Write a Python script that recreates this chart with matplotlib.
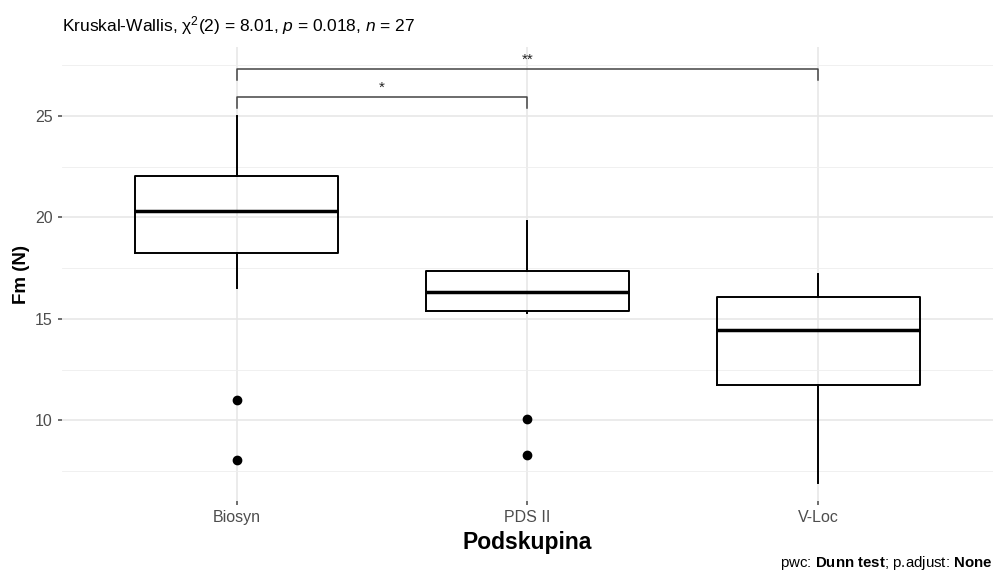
import matplotlib
matplotlib.use("Agg")
import matplotlib.pyplot as plt

plt.rcParams['font.family'] = ['Liberation Sans', 'DejaVu Sans']
plt.rcParams['mathtext.fontset'] = 'custom'
plt.rcParams['mathtext.rm'] = 'Liberation Sans'
plt.rcParams['mathtext.it'] = 'Liberation Sans:italic'
plt.rcParams['mathtext.bf'] = 'Liberation Sans:bold'

# data
groups = ["Biosyn", "PDS II", "V-Loc"]
q1 = [18.25, 15.39, 11.75]
med = [20.32, 16.33, 14.44]
q3 = [22.04, 17.36, 16.07]
whis_lo = [16.53, 15.3, 6.92]
whis_hi = [25.0, 19.83, 17.22]
outliers = [[11.0, 8.05], [10.07, 8.3], []]

# pairwise comparisons (group index a, group index b, label, bracket y)
pairs = [(0, 1, "*", 25.94), (0, 2, "**", 27.32)]

stats = []
for i, g in enumerate(groups):
    stats.append({"label": g, "q1": q1[i], "med": med[i], "q3": q3[i],
                  "whislo": whis_lo[i], "whishi": whis_hi[i],
                  "fliers": outliers[i]})

fig = plt.figure(figsize=(9.93, 5.72), dpi=100)
ax = fig.add_axes([0.0624, 0.1241, 0.9376, 0.7937])

pos = [1, 2, 3]
ax.bxp(stats, positions=pos, widths=0.7, showcaps=False, patch_artist=False,
       boxprops=dict(color="black", linewidth=1.4),
       whiskerprops=dict(color="black", linewidth=1.4),
       medianprops=dict(color="black", linewidth=2.5),
       flierprops=dict(marker="o", markerfacecolor="black",
                       markeredgecolor="black", markersize=6),
       zorder=3)

# significance brackets
tip = 0.55
for a, b, lab, yb in pairs:
    xa, xb = pos[a], pos[b]
    ax.plot([xa, xa, xb, xb], [yb - tip, yb, yb, yb - tip],
            color="#444444", linewidth=1.1, zorder=3)
    ax.text((xa + xb) / 2, yb + 0.1, lab, ha="center", va="bottom",
            fontsize=11, color="#222222")

ax.set_xlim(0.4, 3.6)
ax.set_ylim(6.03, 28.40)
ax.set_xticks(pos)
ax.set_xticklabels(groups)
ax.set_yticks([10, 15, 20, 25])
ax.set_yticks([7.5, 12.5, 17.5, 22.5, 27.5], minor=True)

ax.grid(True, which="major", color="#e6e6e6", linewidth=1.1, zorder=0)
ax.grid(True, which="minor", axis="y", color="#eeeeee", linewidth=0.6, zorder=0)
ax.set_axisbelow(True)
for s in ax.spines.values():
    s.set_visible(False)

ax.tick_params(axis="both", which="major", colors="#555555", labelsize=11.5,
               length=3, width=1.2)
ax.tick_params(axis="both", which="minor", length=0)
for lbl in ax.get_xticklabels() + ax.get_yticklabels():
    lbl.set_color("#4d4d4d")

ax.set_ylabel("Fm (N)", fontsize=13.5, fontweight="bold", labelpad=4)
ax.set_xlabel("Podskupina", fontsize=16.5, fontweight="bold", labelpad=4)

fig.text(0.0624, 0.955,
         r"Kruskal-Wallis, χ$^{2}$(2) = 8.01, $\it{p}$ = 0.018, $\it{n}$ = 27",
         fontsize=12.5, ha="left", va="center")
fig.text(0.999, 0.015, r"pwc: $\mathbf{Dunn\ test}$; p.adjust: $\mathbf{None}$",
         fontsize=10.8, ha="right", va="center")

fig.savefig("out.png", dpi=100)
